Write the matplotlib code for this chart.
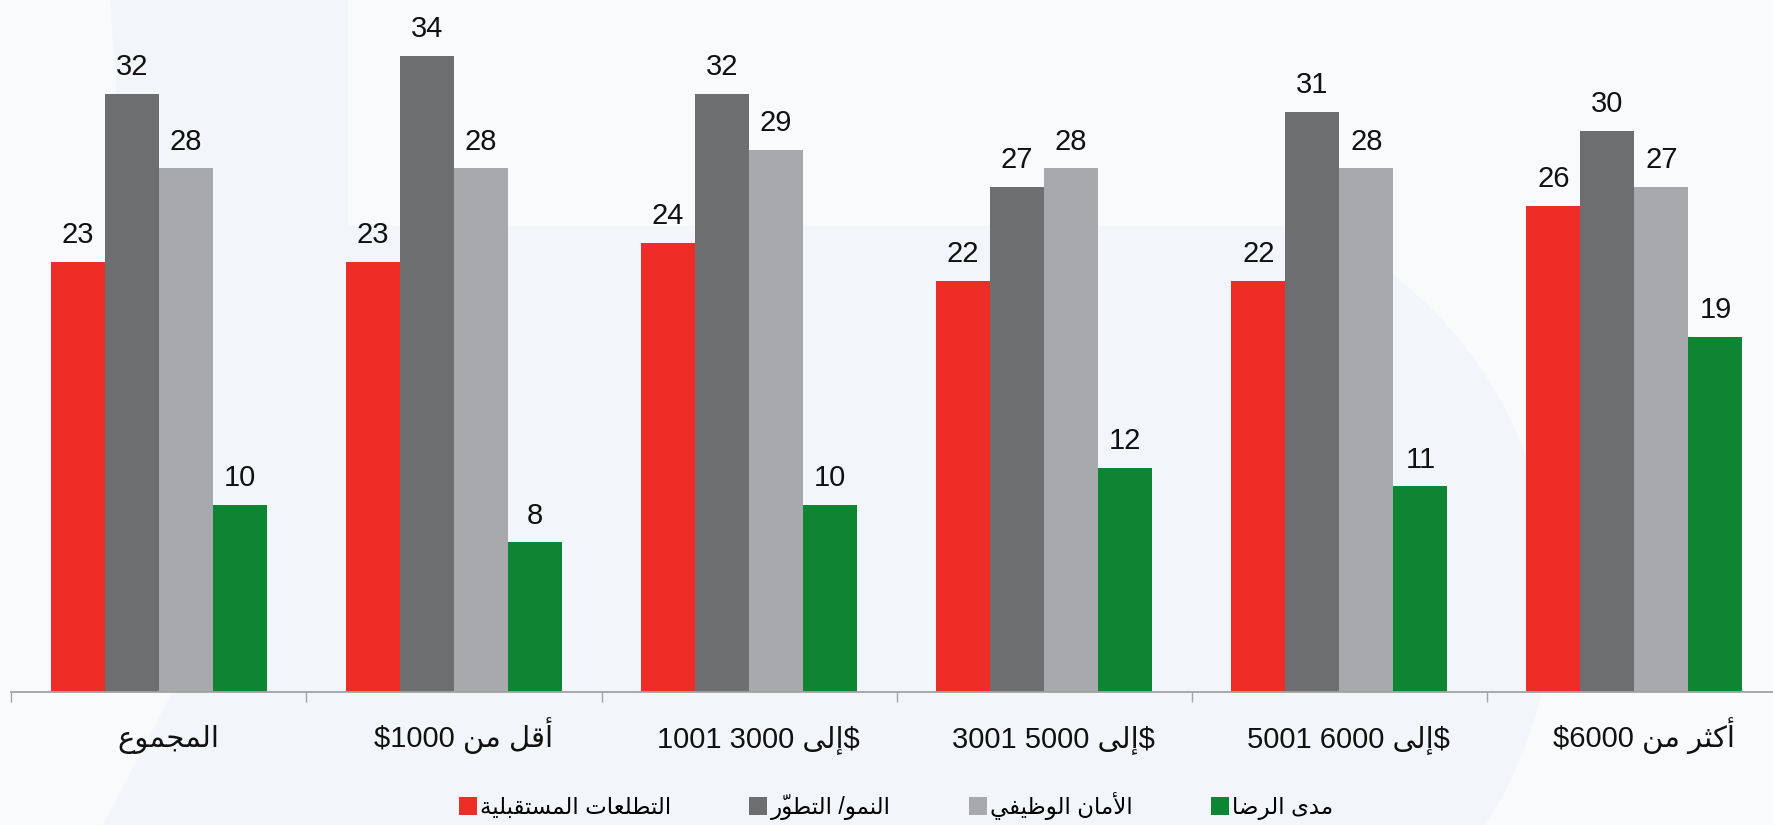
import re
import numpy as np
import matplotlib
matplotlib.use("Agg")
import matplotlib.pyplot as plt
from matplotlib.patches import Polygon

# ---------------------------------------------------------------- data
categories = [
    "المجموع",
    "أقل من $1000",
    "$إلى 3000 1001",
    "$إلى 5000 3001",
    "$إلى 6000 5001",
    "أكثر من $6000",
]
series_names = [
    "التطلعات المستقبلية",
    "النمو/ التطوّر",
    "الأمان الوظيفي",
    "مدى الرضا",
]
aspirations = [23, 23, 24, 22, 22, 26]
growth = [32, 34, 32, 27, 31, 30]
job_security = [28, 28, 29, 28, 28, 27]
satisfaction = [10, 8, 10, 12, 11, 19]

series_values = [aspirations, growth, job_security, satisfaction]
series_colors = ["#EE2D27", "#6D6E70", "#A8A9AC", "#0E8533"]

# ------------------------------------------- minimal Arabic shaping (RTL)
_ARABIC_BASE = {
    "\u0622": (0xFE81, False), "\u0623": (0xFE83, False), "\u0625": (0xFE87, False),
    "\u0627": (0xFE8D, False), "\u0628": (0xFE8F, True), "\u0629": (0xFE93, False),
    "\u062A": (0xFE95, True), "\u062B": (0xFE99, True), "\u062C": (0xFE9D, True),
    "\u062D": (0xFEA1, True), "\u062E": (0xFEA5, True), "\u062F": (0xFEA9, False),
    "\u0630": (0xFEAB, False), "\u0631": (0xFEAD, False), "\u0632": (0xFEAF, False),
    "\u0633": (0xFEB1, True), "\u0634": (0xFEB5, True), "\u0635": (0xFEB9, True),
    "\u0636": (0xFEBD, True), "\u0637": (0xFEC1, True), "\u0638": (0xFEC5, True),
    "\u0639": (0xFEC9, True), "\u063A": (0xFECD, True), "\u0641": (0xFED1, True),
    "\u0642": (0xFED5, True), "\u0643": (0xFED9, True), "\u0644": (0xFEDD, True),
    "\u0645": (0xFEE1, True), "\u0646": (0xFEE5, True), "\u0647": (0xFEE9, True),
    "\u0648": (0xFEED, False), "\u0649": (0xFEEF, False), "\u064A": (0xFEF1, True),
}
_LAM_ALEF = {"\u0622": 0xFEF5, "\u0623": 0xFEF7, "\u0625": 0xFEF9, "\u0627": 0xFEFB}


def _is_mark(c):
    return "\u064B" <= c <= "\u0652"


def _shape(s):
    chars = list(s)
    n = len(chars)

    def neighbour(i, step):
        j = i + step
        while 0 <= j < n and _is_mark(chars[j]):
            j += step
        return j if 0 <= j < n else None

    out = []
    i = 0
    while i < n:
        c = chars[i]
        if c not in _ARABIC_BASE:
            out.append(c)
            i += 1
            continue
        p = neighbour(i, -1)
        joins_prev = p is not None and chars[p] in _ARABIC_BASE and _ARABIC_BASE[chars[p]][1]
        q = neighbour(i, 1)
        base, dual = _ARABIC_BASE[c]
        if c == "\u0644" and q is not None and chars[q] in _LAM_ALEF:
            out.append(chr(_LAM_ALEF[chars[q]] + (1 if joins_prev else 0)))
            i = q + 1
            continue
        joins_next = dual and q is not None and chars[q] in _ARABIC_BASE
        if joins_prev and joins_next:
            cp = base + 3
        elif joins_prev:
            cp = base + 1
        elif joins_next:
            cp = base + 2
        else:
            cp = base
        out.append(chr(cp))
        i += 1
    return "".join(out)


def _reverse_rtl(s):
    # reverse letter order, keeping each diacritic drawn just before its letter
    clusters = []
    for c in s:
        if _is_mark(c) and clusters:
            clusters[-1] = c + clusters[-1]
        else:
            clusters.append(c)
    return "".join(reversed(clusters))


_LTR_RUN = re.compile(r"\$?\d+")


def rtl(s):
    s = _shape(s)
    runs, pos = [], 0
    for m in _LTR_RUN.finditer(s):
        if m.start() > pos:
            runs.append(_reverse_rtl(s[pos:m.start()]))
        runs.append(m.group())
        pos = m.end()
    if pos < len(s):
        runs.append(_reverse_rtl(s[pos:]))
    return "".join(reversed(runs)).replace("$", r"\$")


# ---------------------------------------------------------------- figure
plt.rcParams["font.family"] = ["Liberation Sans", "DejaVu Sans"]

W, H, DPI = 1773, 825, 100
fig = plt.figure(figsize=(W / DPI, H / DPI), dpi=DPI)
fig.patch.set_facecolor("#F9FAFC")

# faint watermark shape behind the chart
bg = fig.add_axes([0, 0, 1, 1], zorder=0)
bg.set_xlim(0, W)
bg.set_ylim(H, 0)
bg.axis("off")
cx, cy, r = 1140.0, 600.0, 412.0
a0 = np.arcsin((226 - cy) / r)
a1 = np.arcsin((H - cy) / r)
ang = np.linspace(a0, a1, 60)
arc = np.column_stack([cx + r * np.cos(ang), cy + r * np.sin(ang)])
shape_pts = np.vstack([
    [[110, 0], [348, 0], [348, 226]],
    arc,
    [[103, H], [172, 693], [135, 350]],
])
bg.add_patch(Polygon(shape_pts, closed=True, facecolor="#F2F5F9", edgecolor="none"))

# main axes
ax = fig.add_axes([11.3 / W, 1 - 692 / H, (1782 - 11.3) / W, 692 / H], zorder=1)
ax.set_facecolor("none")

x = np.arange(len(categories))
bar_w = 0.183
offsets = (np.arange(len(series_values)) - 1.5) * bar_w

handles = []
for vals, col, off in zip(series_values, series_colors, offsets):
    bars = ax.bar(x + off, vals, width=bar_w, color=col, linewidth=0)
    handles.append(bars)
    for xi, v in zip(x + off, vals):
        ax.annotate(f"{v}", xy=(xi, v), xytext=(0, 13.5), textcoords="offset points",
                    ha="center", va="baseline", fontsize=21, color="#111111")

ax.set_xlim(-0.5, len(categories) - 0.5)
ax.set_ylim(0, 37.0)

for side in ("left", "right", "top"):
    ax.spines[side].set_visible(False)
ax.spines["bottom"].set_color("#A3A3A3")
ax.spines["bottom"].set_linewidth(1.3)
ax.set_yticks([])
ax.set_xticks(x)
ax.set_xticklabels([])
ax.tick_params(axis="x", which="major", length=0)
ax.set_xticks(np.arange(-0.5, len(categories), 1.0), minor=True)
ax.tick_params(axis="x", which="minor", length=7.5, width=1.0, color="#A3A3A3", direction="out")

for xi, cat in zip(x, categories):
    ax.annotate(rtl(cat), xy=(xi, 0), xycoords=("data", "axes fraction"),
                xytext=(6.5, -39.6), textcoords="offset points",
                ha="center", va="baseline", fontsize=21, color="#111111")

leg = fig.legend(handles, [rtl(n) for n in series_names], loc="center",
                 bbox_to_anchor=(896 / W, 1 - 806 / H), ncol=4, frameon=False,
                 fontsize=16.5, handlelength=0.78, handleheight=0.78,
                 handletextpad=0.15, columnspacing=3.4, borderaxespad=0)

fig.savefig("out.png", dpi=DPI, facecolor=fig.get_facecolor())
